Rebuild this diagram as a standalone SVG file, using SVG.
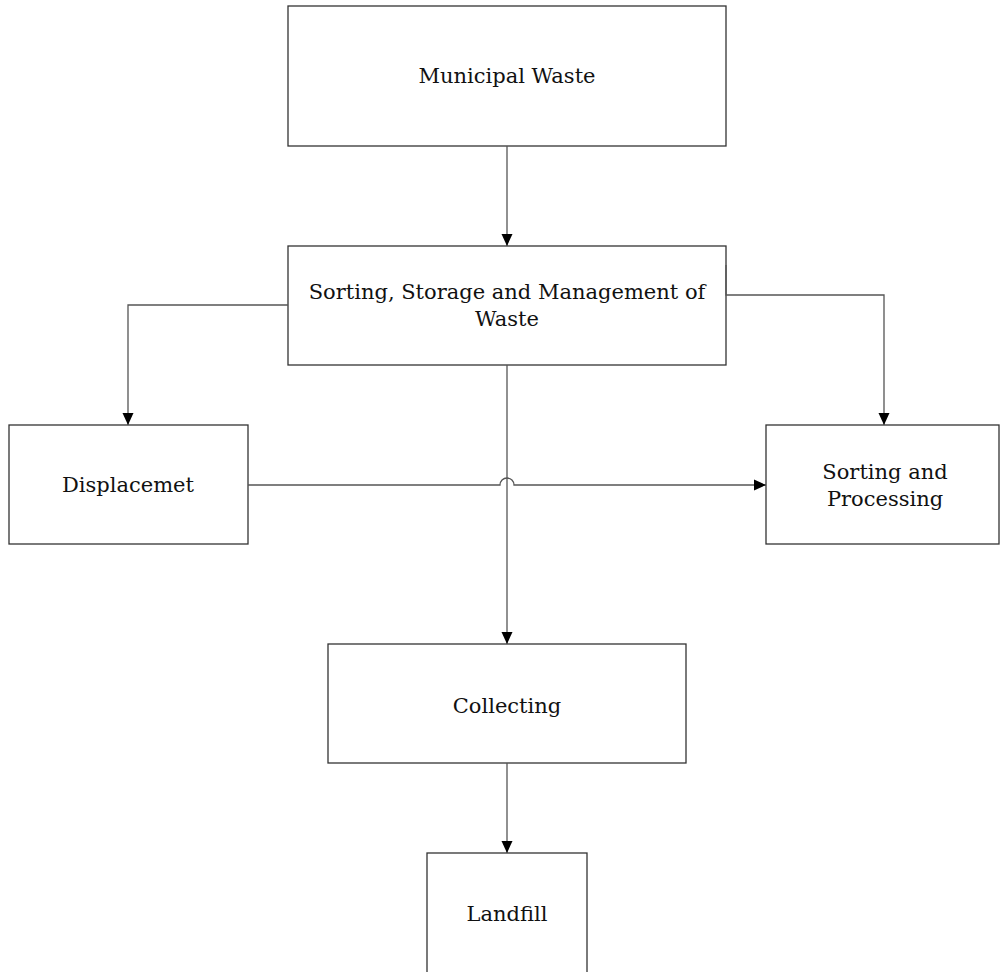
<svg xmlns="http://www.w3.org/2000/svg" width="1000" height="972" viewBox="0 0 1000 972">
<defs>
<marker id="ah" viewBox="0 0 12 12" refX="12" refY="6" markerWidth="12" markerHeight="12" markerUnits="userSpaceOnUse" orient="auto">
<path d="M0,0.5 L12,6 L0,11.5 Z" fill="#000"/>
</marker>
<style>
.box{fill:#fff;stroke:#333;stroke-width:1.3}
.lbl{font-family:"DejaVu Serif","Liberation Serif",serif;font-size:21px;fill:#111;text-anchor:middle}
.c{fill:none;stroke:#555;stroke-width:1.3}
</style>
</defs>
<rect width="1000" height="972" fill="#fff"/>
<g id="municipal-waste">
<rect class="box" x="288" y="6" width="438" height="140"/>
<text class="lbl" x="507" y="83">Municipal Waste</text>
</g>
<g id="sorting-storage">
<rect class="box" x="288" y="246" width="438" height="119"/>
<text class="lbl" x="507" y="299">Sorting, Storage and Management of</text>
<text class="lbl" x="507" y="326">Waste</text>
</g>
<g id="displacemet">
<rect class="box" x="9" y="425" width="239" height="119"/>
<text class="lbl" x="128" y="492">Displacemet</text>
</g>
<g id="sorting-processing">
<rect class="box" x="766" y="425" width="233" height="119"/>
<text class="lbl" x="885" y="479">Sorting and</text>
<text class="lbl" x="885" y="506">Processing</text>
</g>
<g id="collecting">
<rect class="box" x="328" y="644" width="358" height="119"/>
<text class="lbl" x="507" y="713">Collecting</text>
</g>
<g id="landfill">
<rect class="box" x="427" y="853" width="160" height="130"/>
<text class="lbl" x="507" y="921">Landfill</text>
</g>
<g id="connectors">
<path class="c" d="M507,146 V246" marker-end="url(#ah)"/>
<path class="c" d="M288,305 H128 V425" marker-end="url(#ah)"/>
<path class="c" d="M726,265 V295 H884 V425" stroke="#222" marker-end="url(#ah)"/>
<path class="c" d="M248,485 H500 A7,7 0 0 1 514,485 H766" marker-end="url(#ah)"/>
<path class="c" d="M507,365 V644" marker-end="url(#ah)"/>
<path class="c" d="M507,763 V853" marker-end="url(#ah)"/>
</g>
</svg>
